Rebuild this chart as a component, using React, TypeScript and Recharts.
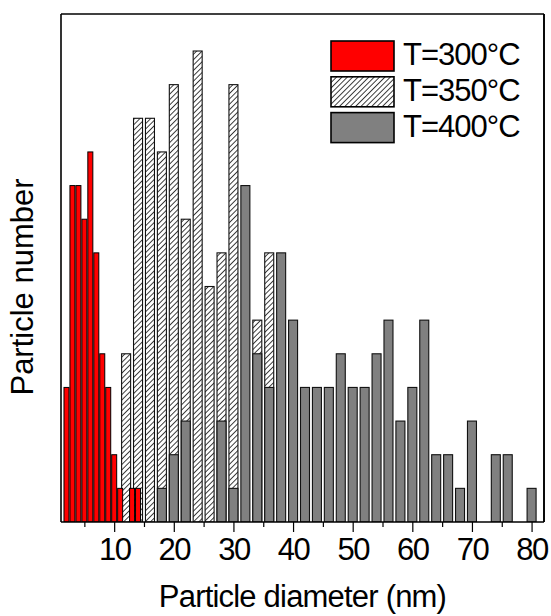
import React from 'react';
import { ComposedChart, Bar, XAxis, YAxis, Legend, ReferenceLine } from 'recharts';

// page reset: the chart frame handles its own 8px offset
if (typeof document !== 'undefined') {
  document.body.style.margin = '0';
}

// ---- data ----
const redDiameters = [2, 3, 4, 5, 6, 7, 8, 9, 10, 11, 13, 14];
const redCounts = [4, 10, 10, 9, 11, 8, 5, 4, 2, 1, 1, 1];

const binDiameters = [12, 14, 16, 18, 20, 22, 24, 26, 28, 30, 32, 34, 36, 38, 40, 42, 44, 46, 48, 50, 52, 54, 56, 58, 60, 62, 64, 66, 68, 70, 72, 74, 76, 78, 80];
const hatchedCounts: (number | null)[] = [5, 12, 12, 11, 13, 9, 14, 7, 8, 13, null, 6, 8, null, null, null, null, null, null, null, null, null, null, null, null, null, null, null, null, null, null, null, null, null, null];
const grayCounts: (number | null)[] = [null, null, null, 1, 2, 3, null, null, 3, 1, 10, 5, 4, 8, 6, 4, 4, 4, 5, 4, 4, 5, 6, 3, 4, 6, 2, 2, 1, 3, null, 2, 2, null, 1];

const seriesNames = ['T=300°C', 'T=350°C', 'T=400°C'];

const xMajorTicks = [10, 20, 30, 40, 50, 60, 70, 80];
const xAllTicks = [5, 10, 15, 20, 25, 30, 35, 40, 45, 50, 55, 60, 65, 70, 75, 80];
const yTicks = [0, 1, 2, 3, 4, 5, 6, 7, 8, 9, 10, 11, 12, 13, 14, 15];
const xDomain: [number, number] = [1, 82];
const yDomain: [number, number] = [0, 15.1];

const xTitle = 'Particle diameter (nm)';
const yTitle = 'Particle number';

// ---- table ----
type Row = { d: number; t300: number | null; t350: number | null; t400: number | null };
const rows: Row[] = (() => {
  const map = new Map<number, Row>();
  const get = (d: number) => {
    if (!map.has(d)) map.set(d, { d, t300: null, t350: null, t400: null });
    return map.get(d) as Row;
  };
  redDiameters.forEach((d, i) => { get(d).t300 = redCounts[i]; });
  binDiameters.forEach((d, i) => {
    get(d).t350 = hatchedCounts[i];
    get(d).t400 = grayCounts[i];
  });
  return Array.from(map.values()).sort((a, b) => a.d - b.d);
})();

// ---- styles ----
const FONT = '"Liberation Sans", Arial, sans-serif';
const RED = '#ff0000';
const GRAY = '#808080';
const HATCH = 'url(#hatch)';
const fills = [RED, HATCH, GRAY];
const legendFills = [RED, 'url(#hatchLegend)', GRAY];
const TICK_SIZE = 10;
const MINOR_TICK = 5;
const TICK_MARGIN = 6;

const makeShape = (scale: number) => (props: any) => {
  const { x, y, width, height, fill, stroke, strokeWidth } = props;
  if (height == null || !(height > 0) || x == null) return <g />;
  const cx = x + width / 2;
  const w = width * scale;
  return <rect x={cx - w / 2} y={y} width={w} height={height} fill={fill} stroke={stroke} strokeWidth={strokeWidth} />;
};
const redShape = makeShape(1);
const binShape = makeShape(1.8);

const BottomTick = (props: any) => {
  const { x, y, payload } = props;
  const axisY = y - TICK_SIZE - TICK_MARGIN;
  const isMajor = xMajorTicks.includes(payload.value);
  return (
    <g>
      <line x1={x} x2={x} y1={axisY} y2={axisY + (isMajor ? TICK_SIZE : MINOR_TICK)} stroke="#000" strokeWidth={1.2} />
      {isMajor && (
        <text x={x} y={y} dy="0.71em" textAnchor="middle" fill="#000" fontSize={31} fontFamily={FONT} letterSpacing={-1.5}>
          {payload.value}
        </text>
      )}
    </g>
  );
};

const HatchPattern = ({ id }: { id: string }) => (
  <pattern id={id} patternUnits="userSpaceOnUse" width={3.8} height={3.8} patternTransform="rotate(45)">
    <rect x={0} y={0} width={3.8} height={3.8} fill="#fff" />
    <line x1={0} y1={0} x2={0} y2={3.8} stroke="#000" strokeWidth={1.5} />
  </pattern>
);

const LegendContent = () => (
  <svg width={210} height={110} style={{ display: 'block', overflow: 'visible' }}>
    <defs>
      <HatchPattern id="hatchLegend" />
    </defs>
    {seriesNames.map((name, i) => (
      <g key={name}>
        <rect x={1} y={1 + i * 35.8} width={63} height={30} fill={legendFills[i]} stroke="#000" strokeWidth={1.6} />
        <text x={73} y={25 + i * 36} fontFamily={FONT} fontSize={31} letterSpacing={-1} fill="#000">{name}</text>
      </g>
    ))}
  </svg>
);

const axisLine = { stroke: '#000', strokeWidth: 1.6 };
const tickLine = { stroke: '#000', strokeWidth: 1.2 };

export default function App() {
  return (
    <div style={{ width: 551, height: 616, paddingLeft: 8, paddingTop: 8, boxSizing: 'border-box', overflow: 'hidden' }}>
      <ComposedChart
        width={543}
        height={608}
        data={rows}
        margin={{ top: 6, right: 0, bottom: 0, left: 0 }}
        style={{ fontFamily: FONT }}
      >
        <defs>
          <HatchPattern id="hatch" />
        </defs>
        <XAxis
          xAxisId="major"
          dataKey="d"
          type="number"
          domain={xDomain}
          allowDataOverflow
          ticks={xAllTicks}
          interval={0}
          height={94}
          tickSize={TICK_SIZE}
          tickMargin={TICK_MARGIN}
          axisLine={axisLine}
          tickLine={false}
          tick={<BottomTick />}
          label={{ value: xTitle, position: 'insideBottom', offset: 9, fill: '#000', fontSize: 31, fontFamily: FONT, letterSpacing: -0.8 }}
        />
        <XAxis
          xAxisId="top"
          orientation="top"
          dataKey="d"
          type="number"
          domain={xDomain}
          allowDataOverflow
          mirror
          ticks={xAllTicks}
          interval={0}
          height={20}
          tick={false}
          tickSize={3}
          axisLine={axisLine}
          tickLine={tickLine}
        />
        <XAxis xAxisId="rx" dataKey="d" type="number" domain={xDomain} allowDataOverflow hide height={0} />
        <XAxis xAxisId="hx" dataKey="d" type="number" domain={xDomain} allowDataOverflow hide height={0} />
        <XAxis xAxisId="gx" dataKey="d" type="number" domain={xDomain} allowDataOverflow hide height={0} />
        <YAxis
          yAxisId="l"
          type="number"
          domain={yDomain}
          allowDataOverflow
          ticks={yTicks}
          interval={0}
          width={53}
          tick={false}
          tickSize={-4}
          axisLine={axisLine}
          tickLine={tickLine}
          label={{ value: yTitle, angle: -90, position: 'center', dx: -13, dy: 19, fill: '#000', fontSize: 31, fontFamily: FONT }}
        />
        <YAxis
          yAxisId="r"
          orientation="right"
          type="number"
          domain={yDomain}
          allowDataOverflow
          ticks={yTicks}
          interval={0}
          width={7}
          tick={false}
          tickSize={3}
          axisLine={axisLine}
          tickLine={tickLine}
        />
        <ReferenceLine x={xDomain[1]} xAxisId="top" yAxisId="l" stroke="#000" strokeWidth={1.6} ifOverflow="visible" />
        <Legend
          layout="horizontal"
          verticalAlign="middle"
          align="center"
          width={210}
          height={110}
          wrapperStyle={{ left: 322, top: 32, width: 210, height: 110 }}
          content={() => <LegendContent />}
        />
        <Bar
          name={seriesNames[1]}
          dataKey="t350"
          xAxisId="hx"
          yAxisId="l"
          barSize={5}
          fill={fills[1]}
          stroke="#111"
          strokeWidth={1.1}
          shape={binShape}
          isAnimationActive={false}
        />
        <Bar
          name={seriesNames[2]}
          dataKey="t400"
          xAxisId="gx"
          yAxisId="l"
          barSize={5}
          fill={fills[2]}
          stroke="#111"
          strokeWidth={1.1}
          shape={binShape}
          isAnimationActive={false}
        />
        <Bar
          name={seriesNames[0]}
          dataKey="t300"
          xAxisId="rx"
          yAxisId="r"
          barSize={5}
          fill={fills[0]}
          stroke="#000"
          strokeWidth={1}
          shape={redShape}
          isAnimationActive={false}
        />
      </ComposedChart>
    </div>
  );
}
